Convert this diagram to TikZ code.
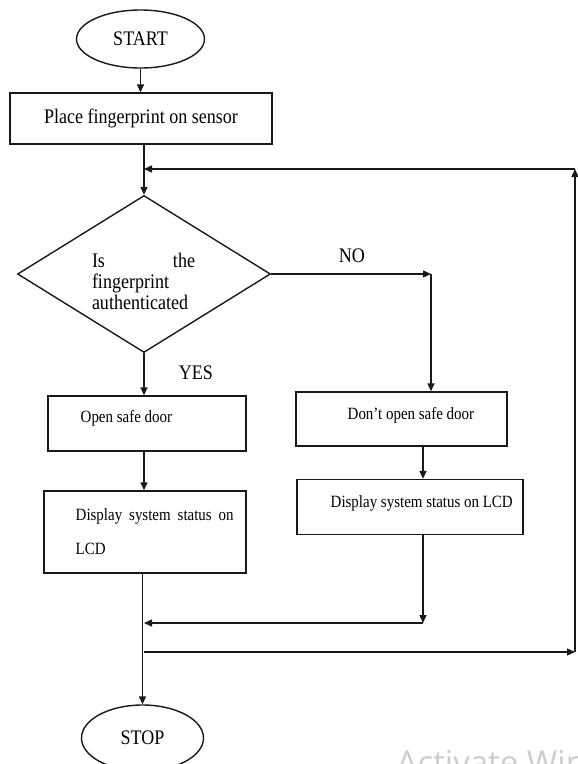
\documentclass[tikz,border=0pt]{standalone}
\usepackage{fontspec}
\setmainfont{Liberation Serif}[FakeStretch=0.87]
\newfontfamily\wmfont{Open Sans}
\usetikzlibrary{shapes.geometric,arrows.meta}
\definecolor{wm}{RGB}{205,205,205}
\definecolor{ink}{RGB}{25,25,25}
\begin{document}
\begin{tikzpicture}[x=1pt,y=-1pt,
  line width=1.4pt, draw=ink,
  arr/.style={-{Triangle[length=8pt,width=7pt]}},
  box/.style={draw=ink,rectangle,inner sep=0pt},
  term/.style={draw=ink,ellipse,inner sep=0pt},
  big/.style={font=\fontsize{20.7}{24}\selectfont},
  small/.style={font=\fontsize{17.2}{20}\selectfont},
  txt/.style={inner sep=0pt}
]
\useasboundingbox (0,0) rectangle (578,764);
\clip (0,0) rectangle (578,764);

% nodes
\node[term,minimum width=128pt,minimum height=58pt,big] (start) at (140.5,39) {START};
\node[box,minimum width=262pt,minimum height=51pt,big] (place) at (141,118.5) {Place fingerprint on sensor};
\node[draw=ink,diamond,shape aspect=1.6,minimum width=253pt,minimum height=157pt,inner sep=0pt] (dec) at (144,274) {};
\node[txt,font=\fontsize{20.7}{21}\selectfont,text width=103pt,align=left] (dectext) at (143.5,281) {Is\hfill the\\fingerprint\\authenticated};
\node[txt,big] (yes) at (196,373) {YES};
\node[txt,big] (no) at (352,256) {NO};

\node[box,minimum width=198pt,minimum height=55pt] (open) at (147,423.5) {};
\node[txt,small,anchor=west] (opent) at (80,418) {Open safe door};

\node[box,minimum width=211pt,minimum height=54pt] (dont) at (401.5,419) {};
\node[txt,small,anchor=west] (dontt) at (347,415) {Don’t open safe door};

\node[box,minimum width=202pt,minimum height=82pt] (disp1) at (145,532) {};
\node[txt,font=\fontsize{17.2}{34}\selectfont,text width=158pt,align=left,anchor=north west] (disp1t) at (75,508) {Display\hfill system\hfill status\hfill on\\LCD};

\node[box,minimum width=226pt,minimum height=55pt] (disp2) at (410,507) {};
\node[txt,small,anchor=west] (disp2t) at (330,503) {Display system status on LCD};

\node[term,minimum width=122pt,minimum height=66pt,big] (stop) at (142.5,738) {STOP};

\node[txt,font=\wmfont\fontsize{33}{33}\selectfont,text=wm,anchor=base west] (wmk) at (396,774) {Activate Windows};

% coordinates
\coordinate (m1) at (144,169);
\coordinate (r1) at (575,169);
\coordinate (r2) at (575,652);
\coordinate (m3) at (144,652);
\coordinate (n1) at (431,274);
\coordinate (j2) at (423,623);
\coordinate (m2) at (144,623);

% connectors
\draw[arr] (start.south) -- (start.south |- place.north);
\draw[arr] (place.south -| dec.north) -- (dec.north);
\draw[arr] (r1) -- (m1);
\draw[arr] (dec.east) -- (n1);
\draw[arr] (n1) -- (n1 |- dont.north);
\draw[arr] (dec.south) -- (dec.south |- open.north);
\draw[arr] (open.south -| dec.south) -- (disp1.north -| dec.south);
\draw[arr] (dont.south -| j2) -- (disp2.north -| j2);
\draw[arr] (disp1.south -| stop.north) -- (stop.north);
\draw[arr] (disp2.south -| j2) -- (j2);
\draw[arr] (j2) -- (m2);
\draw[arr] (m3) -- (r2);
\draw[arr] (r2) -- (r1);
\end{tikzpicture}
\end{document}
